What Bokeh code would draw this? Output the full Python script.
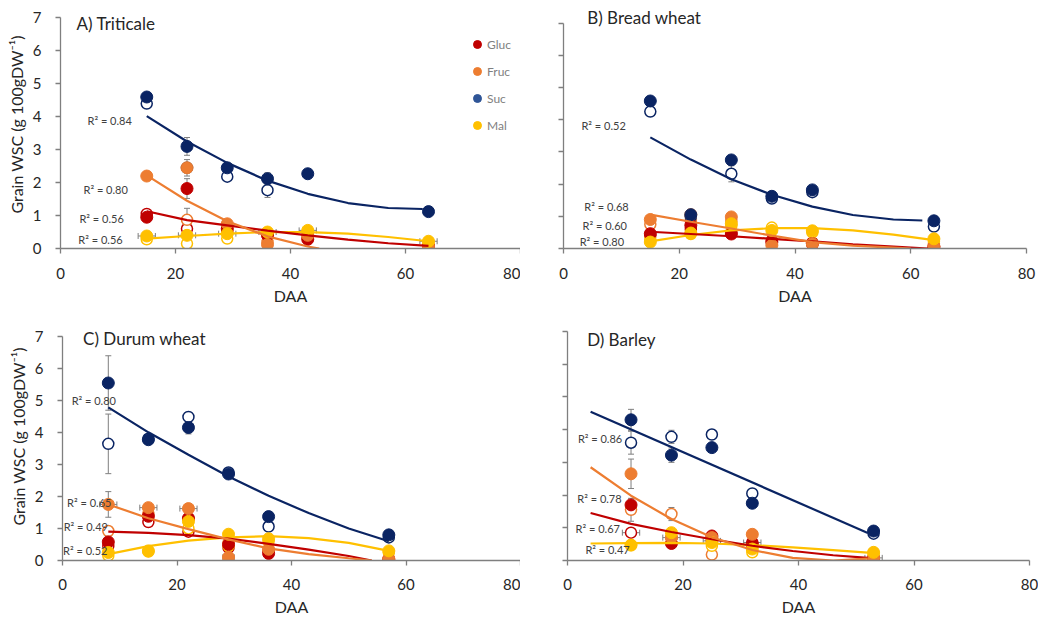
import math
from bokeh.plotting import figure
from bokeh.models import (ColumnDataSource, Whisker, TeeHead, Label, Legend,
                          LegendItem, FixedTicker, Range1d)
from bokeh.layouts import column, row
from bokeh.embed import file_html
from bokeh.resources import INLINE
from bokeh.core.properties import value

nan = float("nan")

# ---------------- data ----------------
SUGARS = ["Gluc", "Fruc", "Suc", "Mal"]
X_TICKS = [0, 20, 40, 60, 80]
Y_TICKS = [0, 1, 2, 3, 4, 5, 6, 7]
Y_LABEL = "Grain WSC (g 100gDW\u207b\u00b9)"
X_LABEL = "DAA"

# Panel A - Triticale
A_DAA = [15, 22, 29, 36, 43, 64]
A_GLUC_FILLED = [0.95, 1.82, 0.60, 0.40, 0.28, 0.05]
A_GLUC_OPEN = [1.05, 0.60, 0.50, 0.45, 0.35, 0.08]
A_FRUC_FILLED = [2.20, 2.45, 0.75, 0.12, 0.40, 0.05]
A_FRUC_OPEN = [nan, 0.87, 0.60, 0.20, 0.30, 0.10]
A_SUC_FILLED = [4.60, 3.10, 2.45, 2.12, 2.27, 1.12]
A_SUC_OPEN = [4.40, 2.45, 2.18, 1.77, nan, nan]
A_MAL_FILLED = [0.38, 0.40, 0.45, 0.50, 0.55, 0.22]
A_MAL_OPEN = [0.28, 0.15, 0.30, 0.45, 0.50, 0.18]
A_SUC_FILLED_ERR = [0.05, 0.27, 0.10, 0.18, 0.05, 0.05]
A_SUC_OPEN_ERR = [0.05, 0.25, 0.08, 0.22, 0.0, 0.0]
A_FRUC_OPEN_ERR = [0.0, 0.35, 0.0, 0.0, 0.0, 0.0]
A_GLUC_FILLED_ERR = [0.0, 0.30, 0.0, 0.0, 0.0, 0.0]
A_MAL_OPEN_ERR = [0.0, 0.20, 0.0, 0.0, 0.0, 0.0]
A_MAL_FILLED_XERR = [1.5, 1.5, 1.5, 1.5, 1.5, 1.5]
A_SUC_FIT_X = [15, 22, 29, 36, 43, 50, 57, 63]
A_SUC_FIT_Y = [4.02, 3.25, 2.60, 2.06, 1.66, 1.38, 1.23, 1.20]
A_FRUC_FIT_X = [15, 22, 29, 36, 43, 45]
A_FRUC_FIT_Y = [2.22, 1.45, 0.83, 0.37, 0.06, 0.00]
A_GLUC_FIT_X = [15, 22, 29, 36, 43, 50, 57, 64]
A_GLUC_FIT_Y = [1.13, 0.86, 0.70, 0.54, 0.40, 0.27, 0.16, 0.08]
A_MAL_FIT_X = [15, 22, 29, 36, 43, 50, 57, 64]
A_MAL_FIT_Y = [0.30, 0.38, 0.45, 0.50, 0.50, 0.45, 0.35, 0.22]
A_R2_TEXT = ["R\u00b2 = 0.84", "R\u00b2 = 0.80", "R\u00b2 = 0.56", "R\u00b2 = 0.56"]
A_R2_X = [4.7, 4.0, 3.3, 3.1]
A_R2_Y = [3.90, 1.80, 0.91, 0.27]

# Panel B - Bread wheat
B_DAA = [15, 22, 29, 36, 43, 64]
B_GLUC_FILLED = [0.46, 0.72, 0.45, 0.20, 0.15, 0.05]
B_GLUC_OPEN = [0.40, 0.60, 0.50, 0.25, 0.18, 0.05]
B_FRUC_FILLED = [0.90, 1.05, 0.98, 0.10, 0.15, 0.06]
B_FRUC_OPEN = [0.75, 0.85, 0.85, 0.20, 0.12, 0.15]
B_SUC_FILLED = [4.58, 1.05, 2.75, 1.62, 1.82, 0.86]
B_SUC_OPEN = [4.25, 0.98, 2.32, 1.55, 1.75, 0.68]
B_MAL_FILLED = [0.20, 0.48, 0.77, 0.56, 0.55, 0.30]
B_MAL_OPEN = [0.28, 0.45, 0.70, 0.65, 0.50, 0.22]
B_SUC_FILLED_ERR = [0.05, 0.05, 0.08, 0.05, 0.05, 0.05]
B_SUC_OPEN_ERR = [0.15, 0.05, 0.25, 0.05, 0.05, 0.05]
B_SUC_FIT_X = [15, 22, 29, 36, 43, 50, 57, 62]
B_SUC_FIT_Y = [3.45, 2.76, 2.15, 1.67, 1.30, 1.04, 0.90, 0.87]
B_FRUC_FIT_X = [15, 22, 29, 36, 43, 50, 57, 60]
B_FRUC_FIT_Y = [1.05, 0.83, 0.62, 0.40, 0.20, 0.09, 0.03, 0.00]
B_GLUC_FIT_X = [15, 22, 29, 36, 43, 50, 57, 63]
B_GLUC_FIT_Y = [0.52, 0.45, 0.38, 0.30, 0.22, 0.13, 0.06, 0.00]
B_MAL_FIT_X = [15, 22, 29, 36, 43, 50, 57, 64]
B_MAL_FIT_Y = [0.22, 0.42, 0.56, 0.63, 0.63, 0.56, 0.43, 0.26]
B_R2_TEXT = ["R\u00b2 = 0.52", "R\u00b2 = 0.68", "R\u00b2 = 0.60", "R\u00b2 = 0.80"]
B_R2_X = [3.1, 3.6, 3.3, 2.8]
B_R2_Y = [3.82, 1.29, 0.72, 0.23]

# Panel C - Durum wheat
C_DAA = [8, 15, 22, 29, 36, 57]
C_GLUC_FILLED = [0.58, 1.38, 1.32, 0.50, 0.22, 0.02]
C_GLUC_OPEN = [0.45, 1.20, 0.90, 0.40, 0.30, 0.05]
C_FRUC_FILLED = [1.75, 1.65, 1.62, 0.10, 0.35, 0.05]
C_FRUC_OPEN = [0.92, 1.45, 1.30, 0.55, 0.30, 0.05]
C_SUC_FILLED = [5.54, 3.77, 4.15, 2.70, 1.37, 0.80]
C_SUC_OPEN = [3.64, 3.80, 4.48, 2.75, 1.06, 0.72]
C_MAL_FILLED = [0.25, 0.30, 1.22, 0.82, 0.68, 0.30]
C_MAL_OPEN = [0.15, 0.28, 1.00, 0.45, 0.60, 0.25]
C_SUC_FILLED_ERR = [0.85, 0.05, 0.20, 0.05, 0.05, 0.05]
C_SUC_OPEN_ERR = [0.93, 0.05, 0.15, 0.05, 0.08, 0.05]
C_FRUC_FILLED_ERR = [0.40, 0.10, 0.10, 0.0, 0.0, 0.0]
C_FRUC_FILLED_XERR = [1.5, 1.5, 1.5, 1.0, 0.0, 0.0]
C_SUC_FIT_X = [8, 15, 22, 29, 36, 43, 50, 57]
C_SUC_FIT_Y = [4.78, 4.00, 3.30, 2.62, 2.02, 1.48, 1.00, 0.60]
C_FRUC_FIT_X = [8, 15, 22, 29, 36, 43, 50, 54]
C_FRUC_FIT_Y = [1.75, 1.32, 0.98, 0.66, 0.38, 0.20, 0.07, 0.00]
C_GLUC_FIT_X = [8, 15, 22, 29, 36, 43, 50, 54]
C_GLUC_FIT_Y = [0.90, 0.86, 0.79, 0.68, 0.52, 0.34, 0.14, 0.00]
C_MAL_FIT_X = [8, 15, 22, 29, 36, 43, 50, 57]
C_MAL_FIT_Y = [0.20, 0.45, 0.62, 0.72, 0.76, 0.70, 0.55, 0.30]
C_R2_TEXT = ["R\u00b2 = 0.80", "R\u00b2 = 0.65", "R\u00b2 = 0.49", "R\u00b2 = 0.52"]
C_R2_X = [1.6, 0.8, 0.2, 0.1]
C_R2_Y = [5.00, 1.82, 1.07, 0.30]

# Panel D - Barley
D_DAA = [11, 18, 25, 32, 53]
D_GLUC_FILLED = [1.70, 0.52, 0.75, 0.50, 0.05]
D_GLUC_OPEN = [0.85, 0.70, 0.60, 0.55, 0.08]
D_FRUC_FILLED = [2.65, 0.70, 0.70, 0.80, 0.08]
D_FRUC_OPEN = [1.55, 1.42, 0.18, 0.45, 0.10]
D_SUC_FILLED = [4.30, 3.22, 3.45, 1.75, 0.90]
D_SUC_OPEN = [3.60, 3.78, 3.85, 2.05, 0.82]
D_MAL_FILLED = [0.47, 0.85, 0.55, 0.35, 0.25]
D_MAL_OPEN = [0.47, 0.70, 0.45, 0.25, 0.20]
D_SUC_FILLED_ERR = [0.32, 0.22, 0.10, 0.12, 0.05]
D_SUC_OPEN_ERR = [0.35, 0.20, 0.12, 0.15, 0.05]
D_FRUC_FILLED_ERR = [0.45, 0.0, 0.0, 0.0, 0.0]
D_FRUC_OPEN_ERR = [0.35, 0.20, 0.0, 0.0, 0.0]
D_GLUC_OPEN_XERR = [1.5, 1.5, 1.5, 1.5, 1.5]
D_SUC_FIT_X = [4, 52]
D_SUC_FIT_Y = [4.55, 0.84]
D_FRUC_FIT_X = [4, 11, 18, 25, 32, 39, 46, 52]
D_FRUC_FIT_Y = [2.85, 1.98, 1.27, 0.71, 0.32, 0.08, 0.00, 0.06]
D_GLUC_FIT_X = [4, 11, 18, 25, 32, 39, 46, 52]
D_GLUC_FIT_Y = [1.45, 1.12, 0.87, 0.65, 0.45, 0.29, 0.16, 0.08]
D_MAL_FIT_X = [4, 11, 18, 25, 32, 39, 46, 52]
D_MAL_FIT_Y = [0.52, 0.53, 0.54, 0.52, 0.47, 0.40, 0.32, 0.24]
D_R2_TEXT = ["R\u00b2 = 0.86", "R\u00b2 = 0.78", "R\u00b2 = 0.67", "R\u00b2 = 0.47"]
D_R2_X = [1.8, 1.7, 1.4, 3.1]
D_R2_Y = [3.72, 1.90, 0.97, 0.34]

TITLES = ["A) Triticale", "B) Bread wheat", "C) Durum wheat", "D) Barley"]

# ---------------- styles ----------------
FONT = "Lato"
COLORS = {"Gluc": "#C00000", "Fruc": "#ED7D31", "Suc": "#0A2463", "Mal": "#FFC000"}
LEGEND_COLORS = {"Gluc": "#C00000", "Fruc": "#ED7D31", "Suc": "#2F5597", "Mal": "#FFC000"}
AXIS_COLOR = "#7F7F7F"
TEXT_COLOR = "#262626"
ERR_COLOR = "#7F7F7F"
MARKER_SIZE = 12


def panel_data(prefix):
    g = globals()
    out = {}
    for s in SUGARS:
        for kind in ("FILLED", "OPEN"):
            key = f"{prefix}_{s.upper()}_{kind}"
            out[(s, kind)] = dict(y=g[key], err=g.get(key + "_ERR"), xerr=g.get(key + "_XERR"))
    fits = {s: (g[f"{prefix}_{s.upper()}_FIT_X"], g[f"{prefix}_{s.upper()}_FIT_Y"]) for s in SUGARS}
    return g[f"{prefix}_DAA"], out, fits, (g[f"{prefix}_R2_X"], g[f"{prefix}_R2_Y"], g[f"{prefix}_R2_TEXT"])


def add_whiskers(p, xs, ys, errs, dim):
    base, lo, hi = [], [], []
    for x, y, e in zip(xs, ys, errs):
        if e and not math.isnan(y):
            if dim == "height":
                base.append(x); lo.append(y - e); hi.append(y + e)
            else:
                base.append(y); lo.append(x - e); hi.append(x + e)
    if not base:
        return
    src = ColumnDataSource(dict(base=base, lower=lo, upper=hi))
    w = Whisker(source=src, base="base", lower="lower", upper="upper", dimension=dim,
                line_color=ERR_COLOR, line_width=1,
                upper_head=TeeHead(size=6, line_color=ERR_COLOR, line_width=1),
                lower_head=TeeHead(size=6, line_color=ERR_COLOR, line_width=1))
    p.add_layout(w)


def make_panel(prefix, title, title_xy, y_end, width, height, borders, show_y,
               tick_standoff, label_standoff, legend_loc=None):
    mbl, mbr, mbt, mbb = borders
    p = figure(width=width, height=height, x_range=Range1d(0, 80), y_range=Range1d(0, y_end),
               output_backend="svg", toolbar_location=None,
               min_border_left=mbl, min_border_right=mbr, min_border_top=mbt, min_border_bottom=mbb)
    p.grid.visible = False
    p.outline_line_color = None
    p.xaxis.ticker = FixedTicker(ticks=X_TICKS)
    p.yaxis.ticker = FixedTicker(ticks=Y_TICKS)
    p.yaxis.bounds = (0, 7)
    for ax in (p.xaxis[0], p.yaxis[0]):
        ax.axis_line_color = AXIS_COLOR
        ax.axis_line_width = 1.3
        ax.major_tick_line_color = AXIS_COLOR
        ax.major_tick_line_width = 1.3
        ax.major_tick_in = 0
        ax.major_tick_out = 5
        ax.minor_tick_line_color = None
        ax.major_label_text_font = FONT
        ax.major_label_text_font_size = "15px"
        ax.major_label_text_color = TEXT_COLOR
        ax.major_label_text_line_height = 1.0
        ax.axis_label_text_font = FONT
        ax.axis_label_text_font_size = "16px"
        ax.axis_label_text_font_style = "normal"
        ax.axis_label_text_color = TEXT_COLOR
        ax.axis_label_text_line_height = 1.0
    p.xaxis.axis_label = X_LABEL
    p.xaxis.major_label_standoff = tick_standoff
    p.xaxis.axis_label_standoff = label_standoff
    if show_y:
        p.yaxis.axis_label = Y_LABEL
        p.yaxis.major_label_standoff = 14
        p.yaxis.axis_label_standoff = 4
    else:
        p.yaxis.major_label_text_color = None
        p.yaxis.major_label_standoff = 0

    daa, series, fits, r2 = panel_data(prefix)

    for (s, kind), d in series.items():
        if d["err"]:
            add_whiskers(p, daa, d["y"], d["err"], "height")
        if d["xerr"]:
            add_whiskers(p, daa, d["y"], d["xerr"], "width")

    # open markers first, filled markers drawn over them
    for s in SUGARS:
        d = series[(s, "OPEN")]
        p.scatter(daa, d["y"], size=MARKER_SIZE - 1, fill_color="white", line_color=COLORS[s], line_width=1.5)
    for s in SUGARS:
        d = series[(s, "FILLED")]
        p.scatter(daa, d["y"], size=MARKER_SIZE, fill_color=COLORS[s], line_color=COLORS[s], line_width=1)

    for s in ["Mal", "Gluc", "Fruc", "Suc"]:
        fx, fy = fits[s]
        p.line(fx, fy, line_color=COLORS[s], line_width=2.2)

    rx, ry, rt = r2
    p.text(rx, ry, text=rt, text_font=value(FONT), text_font_size="11px", text_color="#404040",
           text_align="left", text_baseline="middle")

    p.add_layout(Label(x=title_xy[0], y=title_xy[1], x_units="data", y_units="data", text=title,
                       text_font=FONT, text_font_size="17px", text_color=TEXT_COLOR,
                       text_baseline="middle", text_align="left"))

    if legend_loc is not None:
        items = []
        for s in SUGARS:
            r = p.scatter([nan], [nan], size=8, fill_color=LEGEND_COLORS[s], line_color=LEGEND_COLORS[s])
            items.append(LegendItem(label=s, renderers=[r]))
        lg = Legend(items=items, location=legend_loc, border_line_color=None,
                    background_fill_alpha=0, padding=0, margin=0, spacing=7,
                    glyph_height=20, glyph_width=20, label_height=20, label_standoff=0,
                    label_text_font=FONT, label_text_font_size="12px", label_text_color="#7F7F7F")
        p.add_layout(lg)
    return p


pA = make_panel("A", TITLES[0], (2.8, 6.84), 7.53, 520, 312, (60, 0, 0, 64), True, 14, 4,
                legend_loc=(407, 113))
pB = make_panel("B", TITLES[1], (4.1, 7.17), 7.70, 518, 312, (43, 12, 0, 62), False, 14, 4)
pC = make_panel("C", TITLES[2], (3.6, 6.94), 7.74, 520, 310, (62, 0, 0, 59), True, 13, 4)
pD = make_panel("D", TITLES[3], (3.4, 6.77), 7.58, 518, 310, (47, 9, 0, 62), False, 13, 4)

layout = column(row(pA, pB), row(pC, pD))
open("out.html", "w").write(file_html(layout, INLINE))
